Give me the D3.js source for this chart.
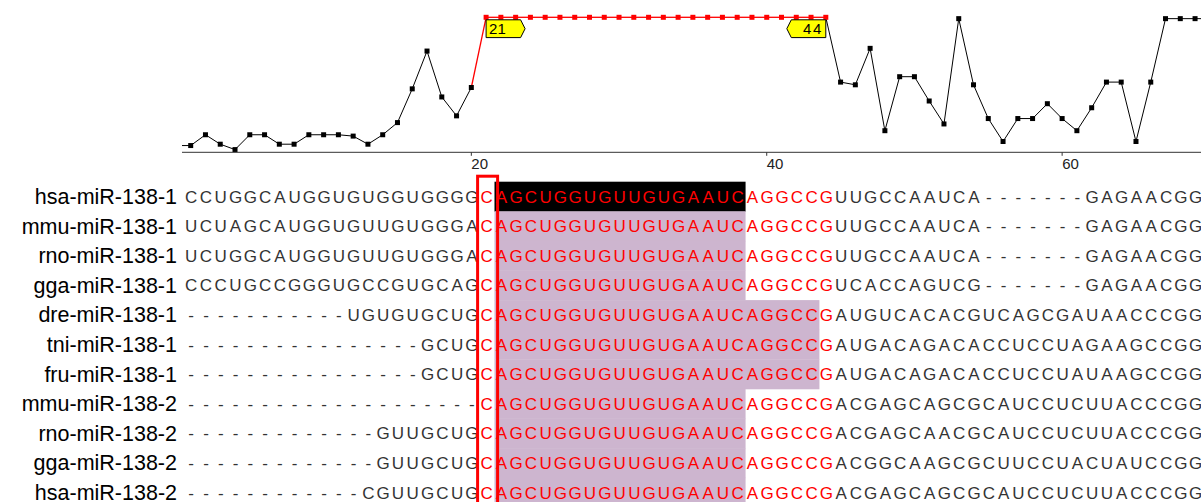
<!DOCTYPE html>
<html>
<head>
<meta charset="utf-8">
<script src="https://cdn.jsdelivr.net/npm/d3@7"></script>
<style>
  html, body { margin: 0; padding: 0; background: #fff; }
  svg { display: block; }
</style>
</head>
<body>
<svg id="view" width="1201" height="502"></svg>
<script>
// miR-138 precursor alignment with a per-column conservation track above it

const species = [
  "hsa-miR-138-1", "mmu-miR-138-1", "rno-miR-138-1", "gga-miR-138-1",
  "dre-miR-138-1", "tni-miR-138-1", "fru-miR-138-1", "mmu-miR-138-2",
  "rno-miR-138-2", "gga-miR-138-2", "hsa-miR-138-2"
];

const sequences = [
  "CCUGGCAUGGUGUGGUGGGGCAGCUGGUGUUGUGAAUCAGGCCGUUGCCAAUCA-------GAGAACGG",
  "UCUAGCAUGGUGUUGUGGGACAGCUGGUGUUGUGAAUCAGGCCGUUGCCAAUCA-------GAGAACGG",
  "UCUGGCAUGGUGUUGUGGGACAGCUGGUGUUGUGAAUCAGGCCGUUGCCAAUCA-------GAGAACGG",
  "CCCUGCCGGGUGCCGUGCAGCAGCUGGUGUUGUGAAUCAGGCCGUCACCAGUCG-------GAGAACGG",
  "-----------UGUGUGCUGCAGCUGGUGUUGUGAAUCAGGCCGAUGUCACACGUCAGCGAUAACCCGG",
  "----------------GCUGCAGCUGGUGUUGUGAAUCAGGCCGAUGACAGACACCUCCUAGAAGCCGG",
  "----------------GCUGCAGCUGGUGUUGUGAAUCAGGCCGAUGACAGACACCUCCUAUAAGCCGG",
  "--------------------CAGCUGGUGUUGUGAAUCAGGCCGACGAGCAGCGCAUCCUCUUACCCGG",
  "-------------GUUGCUGCAGCUGGUGUUGUGAAUCAGGCCGACGAGCAACGCAUCCUCUUACCCGG",
  "-------------GUUGCUGCAGCUGGUGUUGUGAAUCAGGCCGACGGCAAGCGCUUCCUACUAUCCGG",
  "------------CGUUGCUGCAGCUGGUGUUGUGAAUCAGGCCGACGAGCAGCGCAUCCUCUUACCCGG"
];

// Conservation score for alignment columns 0..70 (columns 1..69 are shown)
const columns = [
  0, 1, 2, 3, 4, 5, 6, 7, 8, 9, 10, 11, 12, 13, 14, 15, 16, 17, 18, 19, 20,
  21, 22, 23, 24, 25, 26, 27, 28, 29, 30, 31, 32, 33, 34, 35, 36, 37, 38, 39, 40,
  41, 42, 43, 44, 45, 46, 47, 48, 49, 50, 51, 52, 53, 54, 55, 56, 57, 58, 59, 60,
  61, 62, 63, 64, 65, 66, 67, 68, 69, 70
];
const conservation = [
  0.05, 0.05, 0.13, 0.06, 0.02, 0.13, 0.13, 0.06, 0.06, 0.13, 0.13, 0.13, 0.12, 0.06, 0.13, 0.22,
  0.47, 0.75, 0.41, 0.27, 0.48,
  1, 1, 1, 1, 1, 1, 1, 1, 1, 1, 1, 1, 1, 1, 1, 1, 1, 1, 1, 1, 1, 1, 1, 1,
  0.52, 0.50, 0.77, 0.16, 0.56, 0.56, 0.38, 0.21, 0.99, 0.50, 0.25, 0.08, 0.25, 0.25, 0.36, 0.25,
  0.16, 0.33, 0.52, 0.52, 0.08, 0.52, 0.99, 0.99, 0.99, 0.99
];

// Mature miRNA window (first and last column) and the seed-marker column
const matureRange = [21, 44];
const markerColumn = 21;
const tickValues = [20, 40, 60];
// Shaded conserved block per row: [first column, last column]
const blockStart = [22, 22, 22, 22, 22, 22, 22, 22, 22, 22, 22];
const blockEnd   = [38, 38, 38, 38, 43, 43, 43, 38, 38, 38, 38];

const svg = d3.select("#view");
const W = 1201, H = 502;
const colW = 14.77;

const x = d3.scaleLinear().domain([1, 69]).range([190.7, 190.7 + 68 * colW]);
const y = d3.scaleLinear().domain([0, 1]).range([152.3, 17.3]);
const row = d3.scaleBand().domain(d3.range(species.length)).range([181.7, 181.7 + 11 * 29.6]);

const inMature = c => c >= matureRange[0] && c <= matureRange[1];

// ---------- conservation track ----------
svg.append("clipPath").attr("id", "trackClip")
  .append("rect").attr("x", 182).attr("y", 0).attr("width", W - 182).attr("height", 160);

const track = svg.append("g").attr("clip-path", "url(#trackClip)");
const pts = columns.map((c, i) => ({ c, v: conservation[i] }));

// segments, red when they end inside the mature window
track.selectAll("line.seg")
  .data(pts.slice(1).map((p, i) => [pts[i], p]))
  .join("line")
  .attr("x1", d => x(d[0].c)).attr("y1", d => y(d[0].v))
  .attr("x2", d => x(d[1].c)).attr("y2", d => y(d[1].v))
  .attr("stroke", d => inMature(d[1].c) ? "#ff0000" : "#000")
  .attr("stroke-width", d => inMature(d[1].c) ? 1.3 : 1);

track.selectAll("rect.pt")
  .data(pts)
  .join("rect")
  .attr("x", d => x(d.c) - 2.5).attr("y", d => y(d.v) - 2.5)
  .attr("width", 5).attr("height", 5)
  .attr("fill", d => inMature(d.c) ? "#ff0000" : "#000");

// axis
svg.append("line")
  .attr("x1", 182).attr("x2", W).attr("y1", y(0)).attr("y2", y(0))
  .attr("stroke", "#333").attr("stroke-width", 1);
const ticks = svg.selectAll("g.tick").data(tickValues).join("g")
  .attr("transform", d => `translate(${x(d)},${y(0)})`);
ticks.append("line").attr("y1", 0).attr("y2", 3.5).attr("stroke", "#333");
ticks.append("text").attr("x", 0).attr("y", 16.5)
  .attr("font-family", "Liberation Sans, Arial, sans-serif").attr("font-size", 15)
  .attr("fill", "#222").text(d => d);

// start / end flags of the mature window
const flagTop = 19.8, flagBot = 37.6, flagMid = (flagTop + flagBot) / 2;
const flags = [
  { c: matureRange[0], dir: 1 },
  { c: matureRange[1], dir: -1 }
];
flags.forEach(f => {
  const x0 = x(f.c);
  const body = 34.5 * f.dir, tip = 39 * f.dir;
  const path = d3.path();
  path.moveTo(x0, flagTop);
  path.lineTo(x0 + body, flagTop);
  path.lineTo(x0 + tip, flagMid);
  path.lineTo(x0 + body, flagBot);
  path.lineTo(x0, flagBot);
  path.closePath();
  svg.append("path").attr("d", path.toString())
    .attr("fill", "#ffff00").attr("stroke", "#000").attr("stroke-width", 1);
  svg.append("text")
    .attr("x", f.dir > 0 ? x0 + 3 : x0 - 3)
    .attr("y", flagBot - 3.5)
    .attr("text-anchor", f.dir > 0 ? "start" : "end")
    .attr("font-family", "Liberation Sans, Arial, sans-serif").attr("font-size", 15)
    .attr("letter-spacing", f.dir > 0 ? 0 : 1.5)
    .attr("fill", "#000").text(f.c);
});

// ---------- alignment ----------
const aln = svg.append("g");

// shaded conserved block (black on the reference row, mauve elsewhere)
aln.selectAll("rect.block")
  .data(species.map((s, i) => ({ i, a: blockStart[i], b: blockEnd[i] })))
  .join("rect")
  .attr("x", d => x(d.a) - colW / 2 + 1)
  .attr("width", d => x(d.b) - x(d.a) + colW)
  .attr("y", d => row(d.i))
  .attr("height", row.bandwidth() + 0.4)
  .attr("fill", d => d.i === 0 ? "#000" : "#cdb5cf");

// species labels
aln.selectAll("text.lab")
  .data(species)
  .join("text")
  .attr("x", 177)
  .attr("y", (d, i) => row(i) + row.bandwidth() / 2 + 7.5)
  .attr("text-anchor", "end")
  .attr("font-family", "Liberation Sans, Arial, sans-serif")
  .attr("font-size", 21.5)
  .attr("fill", "#000")
  .text(d => d);

// residues
const cells = [];
sequences.forEach((s, i) => {
  s.split("").forEach((ch, k) => cells.push({ i, c: k + 1, ch }));
});
aln.selectAll("text.res")
  .data(cells)
  .join("text")
  .attr("x", d => x(d.c) + 0.5)
  .attr("y", d => row(d.i) + row.bandwidth() / 2 + 6)
  .attr("text-anchor", "middle")
  .attr("font-family", "Liberation Sans, Arial, sans-serif")
  .attr("font-size", 17)
  .attr("fill", d => inMature(d.c) ? "#ff0000" : "#333")
  .text(d => d.ch);

// marker box around the first mature column
aln.append("rect")
  .attr("x", x(markerColumn) - 8.5)
  .attr("width", 20)
  .attr("y", row(0) - 5.5)
  .attr("height", H)
  .attr("fill", "none")
  .attr("stroke", "#ff0000")
  .attr("stroke-width", 3);
</script>
</body>
</html>
